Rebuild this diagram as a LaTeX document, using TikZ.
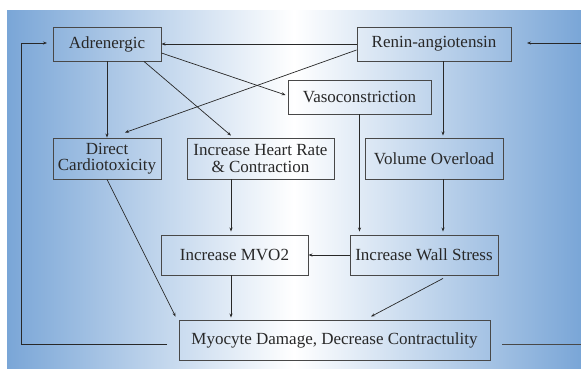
\documentclass[tikz,border=0pt]{standalone}
\usepackage{fontspec}
\setmainfont{Liberation Serif}
\usetikzlibrary{arrows.meta,calc}
\definecolor{bgblue}{RGB}{122,166,215}
\definecolor{ink}{RGB}{40,40,40}
\begin{document}
\begin{tikzpicture}[x=1pt,y=-1pt,
  box/.style={draw=ink!85,line width=0.9pt,inner sep=0pt,align=center,text=ink,
    font=\fontsize{17}{16.5}\selectfont},
  arr/.style={draw=ink,line width=0.7pt,-{Stealth[length=4pt,width=3pt]}},
  ln/.style={draw=ink!85,line width=0.9pt}]
\useasboundingbox (0,0) rectangle (581,369);
\shade[left color=bgblue,right color=bgblue,middle color=white] (7,11) rectangle (581,369);
% nodes
\node[box,minimum width=108pt,minimum height=34pt] (adr) at (107,44) {Adrenergic};
\node[box,minimum width=154pt,minimum height=34pt] (ren) at (434,44) {Renin-angiotensin};
\node[box,minimum width=143pt,minimum height=34pt] (vaso) at (359.5,97) {Vasoconstriction};
\node[box,minimum width=108pt,minimum height=41pt] (dc) at (107,158.5) {Direct\\Cardiotoxicity};
\node[box,minimum width=147pt,minimum height=41pt] (hr) at (260.5,158.5) {Increase Heart Rate\\\& Contraction};
\node[box,minimum width=138pt,minimum height=41pt] (vo) at (434,158.5) {Volume Overload};
\node[box,minimum width=147pt,minimum height=40pt] (mvo) at (234.5,255) {Increase MVO2};
\node[box,minimum width=148pt,minimum height=40pt] (ws) at (424,255) {Increase Wall Stress};
\node[box,minimum width=311pt,minimum height=40pt] (myo) at (334.5,340) {Myocyte Damage, Decrease Contractulity};
% connectors
\draw[arr] (ren.west) -- (adr.east);
\draw[arr] (adr.south) -- (dc.north);
\draw[arr] ([xshift=37pt]adr.south) -- ([xshift=-29.5pt,yshift=2pt]hr.north);
\draw[arr] ([yshift=-9pt]adr.east) -- ([xshift=-2pt,yshift=2pt]vaso.west);
\draw[arr] ([yshift=-6pt]ren.west) -- ([xshift=18pt,yshift=5pt]dc.north);
\draw[arr] ([xshift=9pt]ren.south) -- ([xshift=9pt,yshift=2pt]vo.north);
\draw[arr] (vaso.south) -- ([yshift=3pt]vaso.south |- ws.north);
\draw[arr] ([xshift=-29.5pt]hr.south) -- ([xshift=-29.5pt,yshift=3pt]hr.south |- mvo.north);
\draw[arr] ([xshift=9pt]vo.south) -- ([xshift=9pt,yshift=3pt]vo.south |- ws.north);
\draw[arr] (ws.west) -- (mvo.east);
\draw[arr] ([xshift=-3.5pt]mvo.south) -- ([xshift=-3.5pt,yshift=2pt]mvo.south |- myo.north);
\draw[arr] (dc.south) -- ([xshift=-3pt,yshift=3pt]myo.north west);
\draw[arr] ([xshift=19pt,yshift=-3pt]ws.south) -- ([xshift=36.5pt,yshift=3pt]myo.north);
% feedback loops
\coordinate (fbL1) at (167,344);
\coordinate (fbLc) at (21,43);
\coordinate (fbL2) at (47,43);
\draw[arr] (fbL1) -| (fbLc) -- (fbL2);
\coordinate (fbR1) at (502,344);
\coordinate (fbR2) at (581,344);
\draw[ln] (fbR1) -- (fbR2);
\coordinate (fbR3) at (581,43);
\coordinate (fbR4) at (527,43);
\draw[arr] (fbR3) -- (fbR4);
\end{tikzpicture}
\end{document}
